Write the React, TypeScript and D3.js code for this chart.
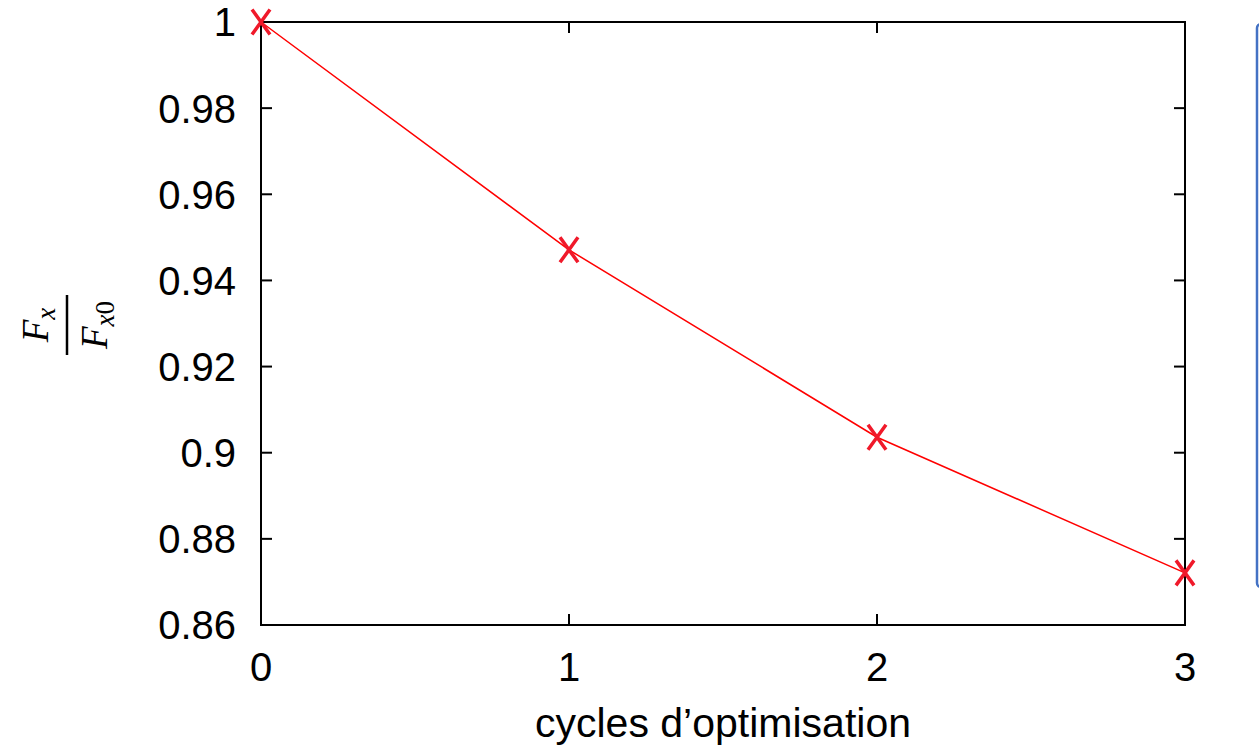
import React, { useRef, useEffect } from 'react';
import * as d3 from 'd3';

const cycles = [0, 1, 2, 3];
const ratio = [1, 0.9471, 0.9036, 0.8721];
const yTicks = [0.86, 0.88, 0.9, 0.92, 0.94, 0.96, 0.98, 1];
const yTickLabels = ['0.86', '0.88', '0.9', '0.92', '0.94', '0.96', '0.98', '1'];
const xTicks = [0, 1, 2, 3];
const xTitle = 'cycles d\u2019optimisation';

const App = () => {
  const svgRef = useRef(null);

  useEffect(() => {
    const W = 1259, H = 751;
    const left = 261, right = 1185, top = 22, bottom = 625;

    const svg = d3.select(svgRef.current);
    svg.selectAll('*').remove();
    svg.attr('width', W).attr('height', H)
      .style('font-family', '"Liberation Sans", Arial, sans-serif');

    svg.append('rect').attr('width', W).attr('height', H).attr('fill', '#fff');

    const x = d3.scaleLinear().domain([0, 3]).range([left, right]);
    const y = d3.scaleLinear().domain([0.86, 1]).range([bottom, top]);

    // side panel edge on the right
    svg.append('rect')
      .attr('x', 1257).attr('y', 24).attr('width', 30).attr('height', 563)
      .attr('rx', 4)
      .attr('fill', '#fff').attr('stroke', '#4472c4').attr('stroke-width', 2.5);

    const tickLen = 11;
    const g = svg.append('g');

    // y ticks, both sides
    yTicks.forEach((t, i) => {
      const yy = y(t);
      g.append('line').attr('x1', left).attr('x2', left + tickLen).attr('y1', yy).attr('y2', yy)
        .attr('stroke', '#000').attr('stroke-width', 2);
      g.append('line').attr('x1', right).attr('x2', right - tickLen).attr('y1', yy).attr('y2', yy)
        .attr('stroke', '#000').attr('stroke-width', 2);
      g.append('text')
        .attr('x', 236).attr('y', yy).attr('dy', '0.36em')
        .attr('text-anchor', 'end').attr('font-size', 40)
        .text(yTickLabels[i]);
    });

    // x ticks, top and bottom
    xTicks.forEach(t => {
      const xx = x(t);
      g.append('line').attr('x1', xx).attr('x2', xx).attr('y1', bottom).attr('y2', bottom - tickLen)
        .attr('stroke', '#000').attr('stroke-width', 2);
      g.append('line').attr('x1', xx).attr('x2', xx).attr('y1', top).attr('y2', top + tickLen)
        .attr('stroke', '#000').attr('stroke-width', 2);
      g.append('text')
        .attr('x', xx).attr('y', 681)
        .attr('text-anchor', 'middle').attr('font-size', 40)
        .text(String(t));
    });

    // frame
    svg.append('rect')
      .attr('x', left).attr('y', top).attr('width', right - left).attr('height', bottom - top)
      .attr('fill', 'none').attr('stroke', '#000').attr('stroke-width', 2);

    // data line
    const line = d3.line<number>()
      .x((d, i) => x(cycles[i]))
      .y(d => y(d));

    svg.append('path')
      .datum(ratio)
      .attr('d', line)
      .attr('fill', 'none')
      .attr('stroke', '#ff0000')
      .attr('stroke-width', 1.5);

    // X markers
    const sx = 9, sy = 12.5;
    ratio.forEach((v, i) => {
      const cx = x(cycles[i]), cy = y(v);
      svg.append('path')
        .attr('d', `M${cx - sx},${cy - sy}L${cx + sx},${cy + sy}M${cx + sx},${cy - sy}L${cx - sx},${cy + sy}`)
        .attr('stroke', '#f0192a').attr('stroke-width', 3.5).attr('fill', 'none');
    });

    // x axis title
    svg.append('text')
      .attr('x', (left + right) / 2).attr('y', 737)
      .attr('text-anchor', 'middle').attr('font-size', 41)
      .text(xTitle);

    // y axis title: fraction Fx / Fx0, rotated
    const yl = svg.append('g')
      .attr('transform', 'translate(67,325) rotate(-90)')
      .style('font-family', '"Liberation Serif", "Times New Roman", serif')
      .style('font-style', 'italic');

    yl.append('line').attr('x1', -30).attr('x2', 30).attr('y1', 0).attr('y2', 0)
      .attr('stroke', '#000').attr('stroke-width', 2.5);

    const num = yl.append('text').attr('x', 0).attr('y', -19).attr('text-anchor', 'middle').attr('font-size', 37);
    num.append('tspan').text('F');
    num.append('tspan').attr('font-size', 27).attr('dy', 7).text('x');

    const den = yl.append('text').attr('x', 0).attr('y', 40).attr('text-anchor', 'middle').attr('font-size', 37);
    den.append('tspan').text('F');
    den.append('tspan').attr('font-size', 27).attr('dy', 7).text('x');
    den.append('tspan').attr('font-size', 27).style('font-style', 'normal').text('0');
  }, []);

  return (
    <svg ref={svgRef} style={{ position: 'absolute', left: 0, top: 0 }} />
  );
};

export default App;
